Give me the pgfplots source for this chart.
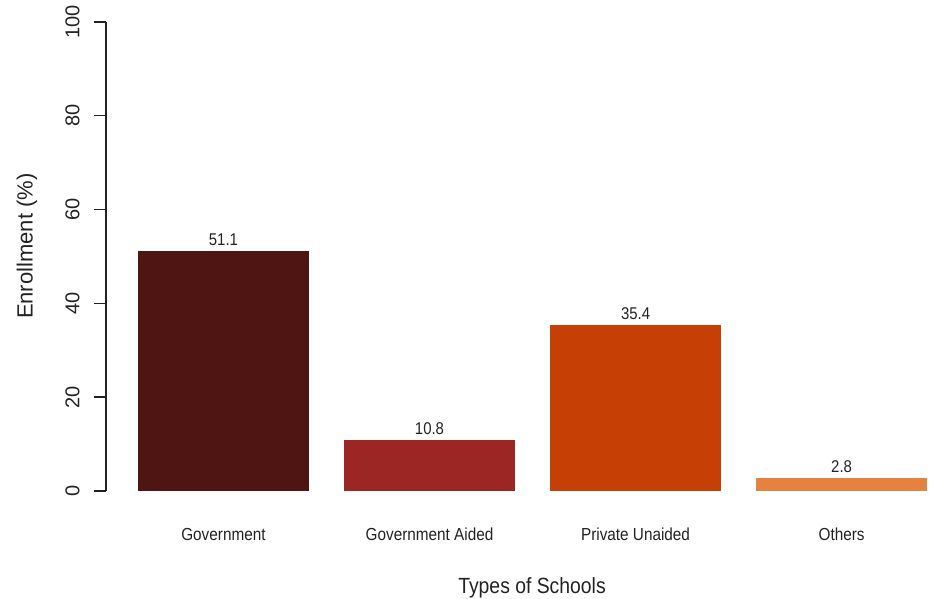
\documentclass[border=0pt]{standalone}
\usepackage{fontspec}
\setmainfont{Liberation Sans}
\newfontfamily\narrowfont{Liberation Sans}[FakeStretch=0.88]
\usepackage{pgfplots}
\pgfplotsset{compat=1.18}
\definecolor{c1}{HTML}{4F1513}
\definecolor{c2}{HTML}{9B2624}
\definecolor{c3}{HTML}{C63F05}
\definecolor{c4}{HTML}{E6823F}
\definecolor{txt}{HTML}{222222}
\begin{document}
\begin{tikzpicture}
\begin{axis}[
  scale only axis, width=414pt, height=234.5pt,
  xmin=0.016, xmax=4.838, ymin=0, ymax=100,
  axis lines*=left,
  x axis line style={draw=none},
  y axis line style={draw=txt, line width=0.7pt},
  /pgf/number format/assume math mode=true,
  xtick={0.7,1.9,3.1,4.3},
  xticklabels={Government, Government Aided, Private Unaided, Others},
  x tick style={draw=none},
  xticklabel style={font=\narrowfont\fontsize{8.7}{10}\selectfont, text=txt, anchor=base, yshift=-19pt},
  ytick={0,20,40,60,80,100},
  y tick style={draw=txt, line width=0.7pt},
  tick align=outside, major tick length=6pt,
  yticklabel style={rotate=90, anchor=south, inner xsep=0pt, inner ysep=7pt, font=\fontsize{10}{12}\selectfont, text=txt},
  ylabel={Enrollment (\%)},
  ylabel style={at={(axis description cs:-0.0954,0.522)}, anchor=center, font=\fontsize{11}{13}\selectfont, text=txt},
  xlabel={Types of Schools},
  xlabel style={at={(axis description cs:0.5145,-0.2068)}, anchor=center, font=\narrowfont\fontsize{11}{13}\selectfont, text=txt},
  nodes near coords,
  nodes near coords style={font=\narrowfont\fontsize{8.5}{10}\selectfont, text=txt, anchor=south, inner sep=0pt, yshift=2.5pt},
]
\addplot[ybar, bar width=1, bar shift=0pt, fill=c1, draw=none] coordinates {(0.7,51.1)};
\addplot[ybar, bar width=1, bar shift=0pt, fill=c2, draw=none] coordinates {(1.9,10.8)};
\addplot[ybar, bar width=1, bar shift=0pt, fill=c3, draw=none] coordinates {(3.1,35.4)};
\addplot[ybar, bar width=1, bar shift=0pt, fill=c4, draw=none] coordinates {(4.3,2.8)};
\end{axis}
\pgfresetboundingbox
\path (-53pt,-54pt) rectangle (414pt,245.5pt);
\end{tikzpicture}
\end{document}
